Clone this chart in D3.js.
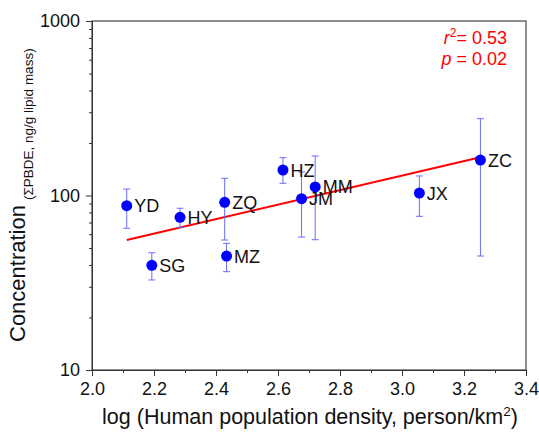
<!DOCTYPE html>
<html><head><meta charset="utf-8">
<script src="https://cdn.jsdelivr.net/npm/d3@7"></script>
<style>body{margin:0;background:#fff}svg{display:block}text{font-family:"Liberation Sans",Arial,sans-serif}</style>
</head><body><svg id="c" width="539" height="433"></svg>
<script>
const sites = ["YD","SG","HY","ZQ","MZ","HZ","JM","MM","JX","ZC"];
const logDensity = [2.112,2.193,2.284,2.428,2.434,2.616,2.676,2.720,3.056,3.253];
const conc = [87.4,39.8,75.0,91.4,45.0,140,95.9,111.9,103.3,159.7];
const errHigh = [108.9,47.0,84.5,125.5,53.2,164.8,136.4,168.4,129.4,275.5];
const errLow = [64.9,32.8,65.7,55.6,36.6,117.5,57.8,55.8,76.0,45.0];
const fitX = [2.112,3.253];
const fitY = [55.6,165.5];
const xTicks = [2.0,2.2,2.4,2.6,2.8,3.0,3.2,3.4];
const yTicks = [10,100,1000];

const svg = d3.select("#c");
const L=92,R=526,T=21,B=370;
const FONT = "Liberation Sans, Arial, sans-serif";
const x = d3.scaleLinear().domain([2.0,3.4]).range([L,R]);
const y = d3.scaleLog().domain([10,1000]).range([B,T]);

// frame
svg.append("rect").attr("x",L).attr("y",T).attr("width",R-L).attr("height",B-T)
  .attr("fill","none").attr("stroke","#444").attr("stroke-width",1.2);

// x axis
const xMinor = d3.range(2.0,3.41,0.1).map(v=>+v.toFixed(1));
svg.append("g").attr("transform",`translate(0,${B})`)
  .call(d3.axisBottom(x).tickValues(xMinor).tickSize(3).tickFormat(""))
  .call(g=>{g.select(".domain").remove();g.selectAll("line").attr("stroke","#333");});
svg.append("g").attr("transform",`translate(0,${B})`)
  .call(d3.axisBottom(x).tickValues(xTicks).tickSize(6).tickPadding(6).tickFormat(d3.format(".1f")))
  .call(g=>{g.select(".domain").attr("stroke","#333");g.selectAll("line").attr("stroke","#333");
    g.selectAll("text").attr("font-size",18).attr("fill","#111").attr("font-family",FONT);});

// y axis
const yMinor = [];
for (const d of [10,100]) for (let k=2;k<=9;k++) yMinor.push(d*k);
svg.append("g").attr("transform",`translate(${L},0)`)
  .call(d3.axisLeft(y).tickValues(yMinor).tickSize(3).tickFormat(""))
  .call(g=>{g.select(".domain").remove();g.selectAll("line").attr("stroke","#333");});
svg.append("g").attr("transform",`translate(${L},0)`)
  .call(d3.axisLeft(y).tickValues(yTicks).tickSize(6).tickPadding(6).tickFormat(d3.format("d")))
  .call(g=>{g.select(".domain").attr("stroke","#333");g.selectAll("line").attr("stroke","#333");
    g.selectAll("text").attr("font-size",18).attr("fill","#111").attr("font-family",FONT);});

// titles
svg.append("text").attr("x",(L+R)/2+1).attr("y",424).attr("text-anchor","middle")
  .attr("font-size",21.5).attr("fill","#111")
  .html('log (Human population density, person/km<tspan dy="-8" font-size="13.5">2</tspan><tspan dy="8">)</tspan>');
const yt = svg.append("text").attr("transform","translate(25,342) rotate(-90)")
  .attr("font-size",22).attr("fill","#111");
yt.append("tspan").text("Concentration");
yt.append("tspan").attr("dx",5).attr("dy",8).attr("font-size",13.5).text("(ΣPBDE, ng/g lipid mass)");

// fit line
svg.append("line").attr("x1",x(fitX[0])).attr("y1",y(fitY[0])).attr("x2",x(fitX[1])).attr("y2",y(fitY[1]))
  .attr("stroke","#ff0000").attr("stroke-width",2);

// error bars
const idx = d3.range(sites.length);
const eb = svg.append("g").attr("stroke","#6b6bff").attr("stroke-width",1);
idx.forEach(i=>{
  const cx=x(logDensity[i]);
  eb.append("line").attr("x1",cx).attr("x2",cx).attr("y1",y(errHigh[i])).attr("y2",y(errLow[i]));
  eb.append("line").attr("x1",cx-3.5).attr("x2",cx+3.5).attr("y1",y(errHigh[i])).attr("y2",y(errHigh[i]));
  eb.append("line").attr("x1",cx-3.5).attr("x2",cx+3.5).attr("y1",y(errLow[i])).attr("y2",y(errLow[i]));
});

// points
svg.append("g").selectAll("circle").data(idx).join("circle")
  .attr("cx",i=>x(logDensity[i])).attr("cy",i=>y(conc[i])).attr("r",5.5).attr("fill","#0000ff");

// labels
svg.append("g").selectAll("text").data(idx).join("text")
  .attr("x",i=>x(logDensity[i])+7.5).attr("y",i=>y(conc[i])+6.5)
  .attr("font-size",18).attr("fill","#111").text(i=>sites[i]);

// stats
const st = svg.append("g").attr("fill","#ff0000").attr("font-size",18).attr("text-anchor","end");
st.append("text").attr("x",507).attr("y",44)
  .html('<tspan font-style="italic">r</tspan><tspan dy="-7" font-size="12">2</tspan><tspan dy="7">= 0.53</tspan>');
st.append("text").attr("x",507).attr("y",65)
  .html('<tspan font-style="italic">p</tspan> = 0.02');
</script></body></html>
